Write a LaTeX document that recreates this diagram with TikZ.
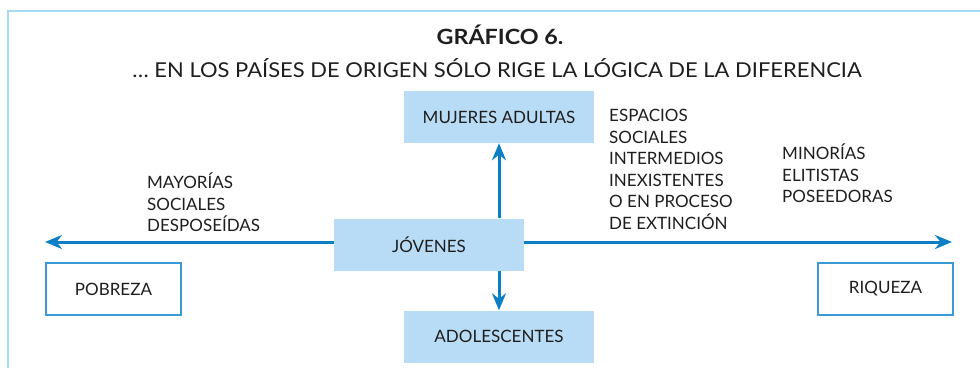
\documentclass[tikz,border=0pt]{standalone}
\usepackage{fontspec}
\setmainfont{Lato}
\newfontfamily\titlefont[FakeStretch=1.11]{Lato}
\newfontfamily\subfont[FakeStretch=1.07]{Lato}
\usetikzlibrary{arrows.meta}
\definecolor{frameblue}{HTML}{A6DAF2}
\definecolor{boxfill}{HTML}{B8DCF5}
\definecolor{arrowblue}{HTML}{0A7FC6}
\definecolor{outline}{HTML}{3A9AD8}
\definecolor{txt}{HTML}{1E1E1E}
\begin{document}
\begin{tikzpicture}[x=1pt,y=-1pt,
  every node/.style={text=txt, font=\fontsize{17}{21.5}\selectfont},
  fillbox/.style={fill=boxfill, minimum width=190pt, minimum height=52pt, inner sep=0pt},
  linebox/.style={draw=outline, line width=1.5pt, fill=white, minimum width=135pt, minimum height=52pt, inner sep=0pt},
  conn/.style={draw=arrowblue, line width=3pt, -{Stealth[length=17pt,width=14pt]}},
  lbl/.style={align=left, anchor=north west, inner sep=0pt}]
\useasboundingbox (0,0) rectangle (980,368);
\draw[frameblue, line width=2pt] (8,368) -- (8,11) -- (980,11);
\node[anchor=base, inner sep=0pt, font=\titlefont\bfseries\fontsize{21}{24}\selectfont] (title) at (500,44) {GRÁFICO 6.};
\node[anchor=base, inner sep=0pt, font=\subfont\fontsize{20.5}{24}\selectfont] (sub) at (497,77) {\dots\ EN LOS PAÍSES DE ORIGEN SÓLO RIGE LA LÓGICA DE LA DIFERENCIA};
\coordinate (lft) at (45,242);
\coordinate (rgt) at (952,242);
\node[fillbox] (muj) at (499,117) {MUJERES ADULTAS};
\node[fillbox] (jov) at (429,244.5) {JÓVENES};
\node[fillbox] (ado) at (499,336.5) {ADOLESCENTES};
\node[linebox] (pob) at (113.5,289) {POBREZA};
\node[linebox] (riq) at (885.5,289) {RIQUEZA};
\draw[conn] (jov.west |- lft) -- (lft);
\draw[conn] (jov.east |- rgt) -- (rgt);
\draw[conn] (muj.south |- jov.north) -- (muj.south);
\draw[conn] (ado.north |- jov.south) -- (ado.north);
\node[lbl] (may) at (147,173) {MAYORÍAS\\SOCIALES\\DESPOSEÍDAS};
\node[lbl] (esp) at (609,109) {ESPACIOS\\SOCIALES\\INTERMEDIOS\\INEXISTENTES\\O EN PROCESO\\DE EXTINCIÓN};
\node[lbl] (min) at (782,144) {MINORÍAS\\ELITISTAS\\POSEEDORAS};
\end{tikzpicture}
\end{document}
